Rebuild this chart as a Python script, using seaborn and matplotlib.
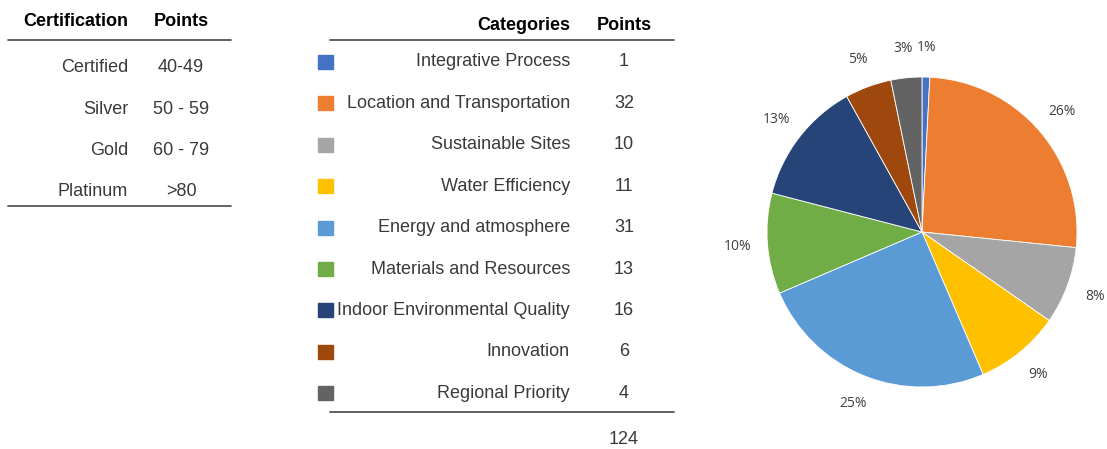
import matplotlib
matplotlib.use("Agg")
import matplotlib.pyplot as plt
from matplotlib.lines import Line2D
from matplotlib.patches import Rectangle
import seaborn as sns

# certification levels
cert_levels = ["Certified", "Silver", "Gold", "Platinum"]
cert_points = ["40-49", "50 - 59", "60 - 79", ">80"]

# credit categories
categories = ["Integrative Process", "Location and Transportation", "Sustainable Sites",
              "Water Efficiency", "Energy and atmosphere", "Materials and Resources",
              "Indoor Environmental Quality", "Innovation", "Regional Priority"]
cat_points = [1, 32, 10, 11, 31, 13, 16, 6, 4]
cat_colors = ["#4472C4", "#ED7D31", "#A5A5A5", "#FFC000", "#5B9BD5",
              "#70AD47", "#264478", "#9E480E", "#636363"]

sns.set_theme(style="white")
plt.rcParams["font.family"] = ["Liberation Sans", "DejaVu Sans"]

W, H = 1107, 449
fig = plt.figure(figsize=(W / 100, H / 100), dpi=100)
fig.patch.set_facecolor("white")


def fx(x):
    return x / W


def fy(y):
    return 1 - y / H


txt_col = "#3a3a3a"
fs = 13

# left table
fig.text(fx(128), fy(21), "Certification", ha="right", va="center", fontsize=fs, weight="bold", color="black")
fig.text(fx(181), fy(21), "Points", ha="center", va="center", fontsize=fs, weight="bold", color="black")
fig.add_artist(Line2D([fx(8), fx(231)], [fy(40), fy(40)], color="#555555", lw=1.3))
for i, (lvl, pts) in enumerate(zip(cert_levels, cert_points)):
    y = 68 + i * 41.3
    fig.text(fx(128), fy(y), lvl, ha="right", va="center", fontsize=fs, color=txt_col)
    fig.text(fx(181), fy(y), pts, ha="center", va="center", fontsize=fs, color=txt_col)
fig.add_artist(Line2D([fx(8), fx(231)], [fy(206), fy(206)], color="#555555", lw=1.3))

# middle table
fig.text(fx(570), fy(25), "Categories", ha="right", va="center", fontsize=fs, weight="bold", color="black")
fig.text(fx(624), fy(25), "Points", ha="center", va="center", fontsize=fs, weight="bold", color="black")
fig.add_artist(Line2D([fx(330), fx(674)], [fy(40), fy(40)], color="#555555", lw=1.3))
for i, (cat, pts, col) in enumerate(zip(categories, cat_points, cat_colors)):
    y = 62 + i * 41.4
    fig.add_artist(Rectangle((fx(318), fy(y + 7)), 15 / W, 14 / H, color=col, transform=fig.transFigure))
    fig.text(fx(570), fy(y), cat, ha="right", va="center", fontsize=fs, color=txt_col)
    fig.text(fx(624), fy(y), str(pts), ha="center", va="center", fontsize=fs, color=txt_col)
fig.add_artist(Line2D([fx(330), fx(674)], [fy(412), fy(412)], color="#555555", lw=1.3))
fig.text(fx(624), fy(440), str(sum(cat_points)), ha="center", va="center", fontsize=fs, color=txt_col)

# pie
cx, cy, r = 922, 232, 155
half = r * 1.25
ax = fig.add_axes([fx(cx - half), fy(cy + half), 2 * half / W, 2 * half / H])
wedges, texts, autotexts = ax.pie(
    cat_points, colors=cat_colors, startangle=90, counterclock=False,
    autopct=lambda p: f"{p:.0f}%", pctdistance=1.19,
    wedgeprops=dict(edgecolor="white", linewidth=0.6),
)
for t in autotexts:
    t.set_fontsize(10)
    t.set_color("#404040")
    t.set_family(["Open Sans", "DejaVu Sans"])

fig.savefig("out.png", dpi=100)
